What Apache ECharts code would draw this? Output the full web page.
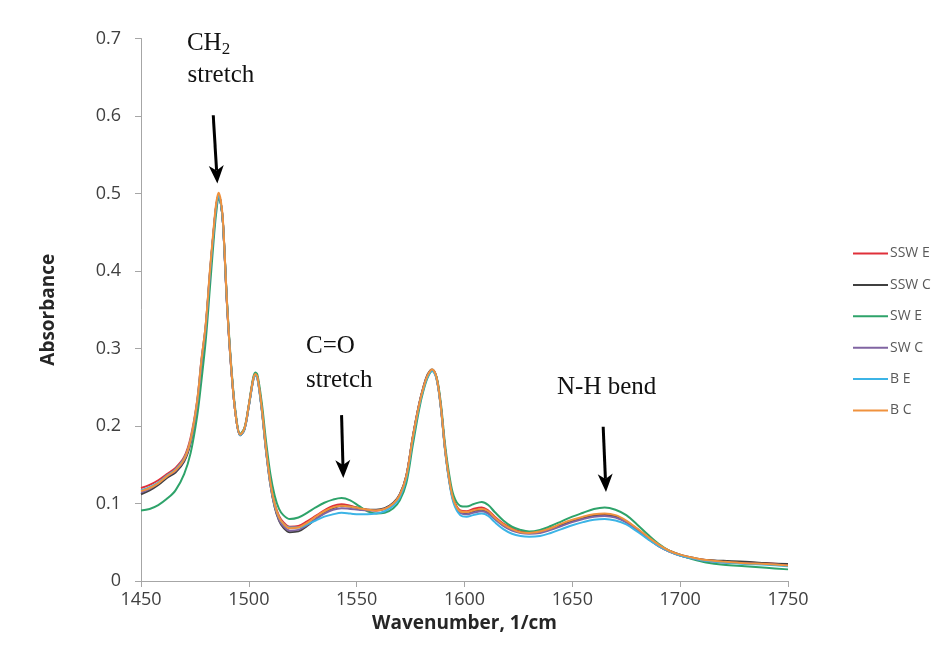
<!DOCTYPE html>
<html>
<head>
<meta charset="utf-8">
<script src="https://cdn.jsdelivr.net/npm/echarts@6/dist/echarts.min.js"></script>
<style>
  html, body { margin: 0; padding: 0; background: #ffffff; }
  #chart { width: 945px; height: 648px; }
</style>
</head>
<body>
<div id="chart"></div>
<script>
// FTIR absorbance spectra, 1450–1750 cm⁻¹
const wavenumbers = [
  1450, 1454, 1458, 1462, 1466, 1470, 1473, 1476, 1478, 1480,
  1482, 1484, 1485, 1486, 1487, 1488, 1490, 1492, 1494, 1496,
  1498, 1500, 1502, 1503, 1504, 1506, 1508, 1510, 1512, 1514,
  1516, 1519, 1523, 1527, 1531, 1535, 1539, 1543, 1547, 1551,
  1555, 1559, 1563, 1567, 1570, 1573, 1576, 1579, 1581, 1583,
  1585, 1587, 1589, 1591, 1593, 1595, 1598, 1601, 1604, 1608,
  1611, 1614, 1618, 1622, 1626, 1630, 1635, 1640, 1645, 1650,
  1655, 1660, 1665, 1670, 1675, 1680, 1685, 1690, 1695, 1700,
  1706, 1712, 1720, 1730, 1740, 1750
];

const seriesNames = ['SSW E', 'SSW C', 'SW E', 'SW C', 'B E', 'B C'];
const seriesColors = ['#e0303a', '#404040', '#2ea36a', '#8064a2', '#3cb4e6', '#f0923e'];

const sswE = [
  .120, .124, .130, .138, .146, .160, .185, .232, .285, .330,
  .400, .462, .487, .498, .488, .462, .350, .268, .212, .189,
  .197, .226, .259, .266, .262, .222, .170, .128, .100, .084,
  .076, .070, .071, .077, .084, .091, .097, .099, .097, .094,
  .092, .091, .093, .100, .111, .135, .185, .228, .250, .266,
  .272, .262, .225, .170, .130, .105, .091, .090, .093, .095,
  .091, .083, .074, .068, .064, .063, .064, .068, .073, .078,
  .082, .085, .086, .083, .076, .066, .055, .045, .038, .033,
  .029, .027, .025, .024, .023, .021
];
const sswC = [
  .112, .117, .124, .133, .140, .154, .178, .226, .279, .326,
  .396, .460, .486, .497, .488, .463, .352, .269, .212, .188,
  .196, .226, .260, .267, .263, .222, .168, .124, .095, .078,
  .069, .063, .064, .071, .080, .088, .094, .097, .096, .094,
  .092, .092, .094, .101, .112, .136, .186, .229, .251, .267,
  .273, .263, .226, .170, .129, .103, .089, .087, .090, .092,
  .088, .081, .072, .066, .063, .062, .063, .067, .072, .077,
  .081, .084, .085, .083, .077, .067, .056, .046, .039, .034,
  .030, .027, .026, .025, .023, .022
];
const swE = [
  .091, .093, .098, .106, .117, .138, .165, .212, .258, .310,
  .380, .450, .478, .494, .487, .462, .355, .272, .215, .190,
  .198, .228, .262, .269, .266, .230, .180, .138, .110, .093,
  .085, .080, .082, .088, .095, .101, .105, .107, .104, .097,
  .090, .087, .088, .094, .104, .126, .175, .222, .246, .263,
  .271, .264, .230, .176, .136, .110, .097, .096, .099, .102,
  .098, .089, .078, .070, .066, .064, .066, .071, .077, .083,
  .088, .093, .095, .092, .085, .073, .060, .048, .039, .033,
  .028, .024, .021, .019, .017, .015
];
const swC = [
  .114, .119, .126, .135, .142, .156, .180, .228, .281, .327,
  .398, .461, .486, .497, .488, .462, .351, .268, .212, .188,
  .196, .226, .259, .266, .262, .221, .167, .124, .096, .079,
  .071, .065, .066, .072, .080, .087, .092, .094, .093, .092,
  .091, .091, .093, .100, .111, .135, .185, .228, .250, .266,
  .272, .262, .225, .169, .128, .102, .088, .086, .088, .090,
  .087, .080, .071, .065, .062, .061, .062, .066, .071, .076,
  .080, .083, .084, .082, .076, .066, .055, .045, .038, .033,
  .029, .026, .024, .023, .022, .020
];
const bE = [
  .117, .121, .127, .136, .144, .158, .182, .230, .283, .329,
  .399, .461, .486, .497, .488, .462, .352, .269, .212, .188,
  .196, .225, .258, .265, .261, .220, .168, .126, .098, .082,
  .074, .069, .069, .073, .078, .083, .086, .088, .087, .086,
  .086, .087, .090, .097, .108, .132, .182, .226, .248, .264,
  .271, .261, .224, .168, .127, .100, .085, .083, .085, .087,
  .084, .076, .067, .061, .058, .057, .058, .062, .067, .072,
  .076, .079, .080, .078, .073, .064, .054, .045, .038, .033,
  .029, .026, .024, .022, .021, .019
];
const bC = [
  .116, .120, .126, .135, .143, .157, .182, .231, .284, .331,
  .402, .465, .490, .501, .491, .465, .353, .269, .212, .189,
  .197, .227, .260, .267, .263, .223, .170, .127, .099, .082,
  .074, .068, .069, .075, .083, .090, .095, .097, .096, .094,
  .092, .091, .093, .100, .111, .135, .185, .228, .250, .266,
  .273, .263, .226, .170, .130, .104, .090, .089, .091, .093,
  .090, .082, .073, .067, .063, .062, .064, .068, .074, .079,
  .083, .086, .087, .085, .078, .068, .057, .047, .039, .034,
  .030, .027, .025, .023, .022, .020
];

// Band annotations: label lines anchored in data space (left edge, vertical centre)
const bandLabels = [
  { text: '{n|CH}{s|2}', wn: 1471.3, y: 0.694 },
  { text: 'stretch', wn: 1471.6, y: 0.652 },
  { text: 'C=O', wn: 1526.5, y: 0.303 },
  { text: 'stretch', wn: 1526.5, y: 0.259 },
  { text: 'N-H bend', wn: 1642.9, y: 0.250 }
];
// Arrows pointing at the bands: [start wn, start y, tip wn, tip y]
const bandArrows = [
  [1483.5, 0.601, 1485.4, 0.513],
  [1543.0, 0.214, 1543.8, 0.133],
  [1664.3, 0.199, 1665.6, 0.115]
];

const allValues = [sswE, sswC, swE, swC, bE, bC];

const chart = echarts.init(document.getElementById('chart'), null, { renderer: 'canvas' });

const axisFont = '"Open Sans", "Liberation Sans", sans-serif';

const series = seriesNames.map((name, i) => ({
  name: name,
  type: 'line',
  data: wavenumbers.map((w, k) => [w, allValues[i][k]]),
  showSymbol: false,
  symbol: 'none',
  smooth: 0.35,
  lineStyle: { width: 2, color: seriesColors[i] },
  itemStyle: { color: seriesColors[i] },
  emphasis: { disabled: true },
  silent: true
}));

chart.setOption({
  animation: false,
  backgroundColor: '#ffffff',
  grid: { left: 141, right: 157, top: 38.5, bottom: 67, containLabel: false, outerBoundsMode: 'none' },
  legend: {
    data: seriesNames,
    orient: 'vertical',
    left: 853,
    top: 245,
    padding: 0,
    icon: 'rect',
    itemWidth: 35,
    itemHeight: 2,
    itemGap: 14.4,
    selectedMode: false,
    textStyle: { fontFamily: axisFont, fontSize: 14, lineHeight: 17, color: '#595959', padding: [0, 0, 0, -3] }
  },
  xAxis: {
    type: 'value',
    min: 1450,
    max: 1750,
    interval: 50,
    name: 'Wavenumber, 1/cm',
    nameLocation: 'middle',
    nameGap: 29,
    nameTextStyle: { fontFamily: axisFont, fontSize: 19, fontWeight: 'bold', color: '#262626' },
    axisLine: { show: true, lineStyle: { color: '#a6a6a6', width: 1 } },
    axisTick: { show: true, inside: false, length: 6, lineStyle: { color: '#a6a6a6' } },
    axisLabel: { fontFamily: axisFont, fontSize: 18, color: '#404040', margin: 10, formatter: v => String(v) },
    splitLine: { show: false }
  },
  yAxis: {
    type: 'value',
    min: 0,
    max: 0.7,
    interval: 0.1,
    name: 'Absorbance',
    nameLocation: 'middle',
    nameGap: 83,
    nameRotate: 90,
    nameTextStyle: { fontFamily: axisFont, fontSize: 19, fontWeight: 'bold', color: '#262626' },
    axisLine: { show: true, lineStyle: { color: '#a6a6a6', width: 1 } },
    axisTick: { show: true, inside: false, length: 6, lineStyle: { color: '#a6a6a6' } },
    axisLabel: { fontFamily: axisFont, fontSize: 18, color: '#404040', margin: 20, formatter: v => String(+v.toFixed(1)) },
    splitLine: { show: false }
  },
  series: series
});

// Band names and arrows placed through the chart's own coordinate conversion
const serifFont = '"Liberation Serif", "DejaVu Serif", serif';
const toPx = (wn, y) => chart.convertToPixel({ gridIndex: 0 }, [wn, y]);

const labelElements = bandLabels.map(l => {
  const p = toPx(l.wn, l.y);
  return {
    type: 'text',
    x: p[0],
    y: p[1],
    silent: true,
    z: 10,
    style: {
      text: l.text,
      fill: '#111111',
      font: '25px ' + serifFont,
      align: 'left',
      verticalAlign: 'middle',
      rich: {
        n: { fontSize: 25, fontFamily: serifFont, fill: '#111111' },
        s: { fontSize: 17, fontFamily: serifFont, fill: '#111111', padding: [12, 0, 0, 0] }
      }
    }
  };
});

const HEAD_LEN = 18, HEAD_HALF = 7.5, NOTCH = 5;
const arrowElements = [];
bandArrows.forEach(a => {
  const p0 = toPx(a[0], a[1]);
  const p1 = toPx(a[2], a[3]);
  const dx = p1[0] - p0[0], dy = p1[1] - p0[1];
  const len = Math.sqrt(dx * dx + dy * dy);
  const ux = dx / len, uy = dy / len;
  const nx = -uy, ny = ux;
  const bx = p1[0] - ux * HEAD_LEN, by = p1[1] - uy * HEAD_LEN;
  const kx = p1[0] - ux * (HEAD_LEN - NOTCH), ky = p1[1] - uy * (HEAD_LEN - NOTCH);
  arrowElements.push({
    type: 'line',
    silent: true,
    z: 11,
    shape: { x1: p0[0], y1: p0[1], x2: kx, y2: ky },
    style: { stroke: '#000000', lineWidth: 3 }
  });
  arrowElements.push({
    type: 'polygon',
    silent: true,
    z: 11,
    shape: {
      points: [
        [p1[0], p1[1]],
        [bx + nx * HEAD_HALF, by + ny * HEAD_HALF],
        [kx, ky],
        [bx - nx * HEAD_HALF, by - ny * HEAD_HALF]
      ]
    },
    style: { fill: '#000000' }
  });
});

chart.setOption({ graphic: labelElements.concat(arrowElements) });
</script>
</body>
</html>
